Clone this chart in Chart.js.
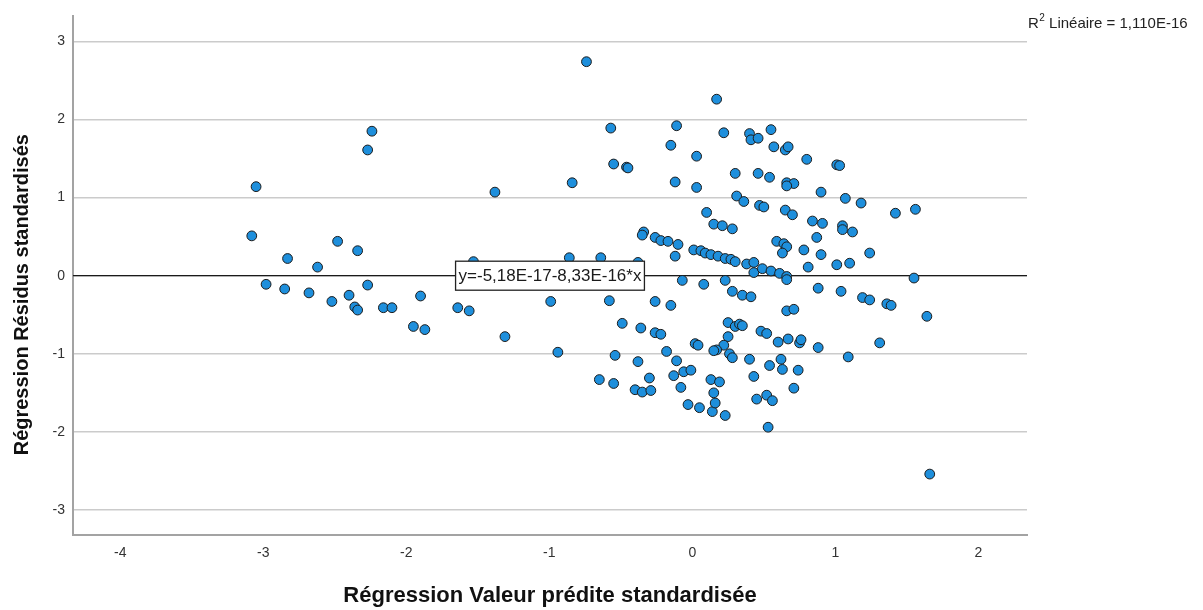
<!DOCTYPE html>
<html lang="fr">
<head>
<meta charset="UTF-8">
<title>Nuage de points - Régression Résidus standardisés</title>
<script src="https://cdn.jsdelivr.net/npm/chart.js"></script>
<style>
  body { margin: 0; background: #fff; }
  canvas { display: block; }
</style>
</head>
<body>

<canvas id="residusChart" width="1203" height="610"></canvas>

<script>
// valeurs
const xTicks = [-4, -3, -2, -1, 0, 1, 2];
const yTicks = [-3, -2, -1, 0, 1, 2, 3];

const predicted = [
  -3.05, -3.08, -2.24, -2.27, -2.83, -2.62, -2.48, -2.34, -2.98, -2.85,
  -2.68, -2.52, -2.40, -2.27, -2.36, -2.34, -2.16, -2.10, -1.90, -1.95,
  -1.87, -1.64, -1.56, -1.31, -0.94, -0.99, -1.53, -1.38, -0.84, -0.74,
  -0.57, -0.55, -0.46, -0.45, -0.86, -0.64, -0.38, -0.58, -0.11, -0.15,
  0.03, -0.12, 0.03, 0.10, -0.34, -0.35, -0.26, -0.22, -0.17, -0.10,
  -0.12, 0.01, 0.06, 0.09, 0.13, 0.18, 0.23, 0.27, 0.30, 0.38,
  0.43, 0.43, 0.49, 0.55, 0.61, 0.66, 0.66, 0.17, 0.22, 0.40,
  0.41, 0.46, 0.55, 0.57, 0.65, 0.67, 0.80, 1.01, 1.03, 0.30,
  0.46, 0.54, 0.66, 0.71, 0.66, 0.90, 1.07, 0.31, 0.36, 0.47,
  0.50, 0.65, 0.70, 0.84, 0.91, 1.05, 1.05, 1.12, 1.18, 1.42,
  1.56, 0.15, 0.21, 0.28, 0.87, 0.59, 0.64, 0.66, 0.63, 0.78,
  0.90, 1.24, 0.81, 1.01, 1.10, 1.55, -0.07, 0.08, 0.23, 0.28,
  0.35, 0.41, 0.88, 1.04, 1.19, 1.24, 1.36, 1.39, 1.64, -0.26,
  -0.15, -0.49, -0.36, -0.26, -0.22, 0.25, 0.30, 0.33, 0.35, 0.48,
  0.52, 0.66, 0.71, 0.25, 0.02, 0.04, 0.22, 0.17, 0.15, 0.26,
  0.28, 0.60, 0.67, 0.75, 0.76, 0.88, 1.09, 1.31, -0.54, -0.38,
  -0.18, -0.11, -0.06, -0.01, -0.13, -0.08, -0.65, -0.55, -0.30, -0.40,
  -0.35, -0.29, -0.03, 0.05, 0.14, 0.16, 0.15, 0.13, 0.19, 0.23,
  0.40, 0.54, 0.62, 0.63, 0.74, 0.43, 0.71, 0.45, 0.52, 0.56,
  0.53, 1.66
];

const residuals = [
  1.14, 0.51, 1.85, 1.61, 0.22, 0.11, 0.44, 0.32, -0.11, -0.17,
  -0.22, -0.33, -0.25, -0.12, -0.40, -0.44, -0.41, -0.41, -0.26, -0.65,
  -0.69, -0.41, -0.45, -0.78, -0.98, -0.33, 0.18, 1.07, 1.19, 2.74,
  1.89, 1.43, 1.39, 1.38, 0.23, 0.23, 0.17, -0.32, 1.92, 1.67,
  1.53, 1.20, 1.13, 0.81, 0.56, 0.52, 0.49, 0.45, 0.44, 0.40,
  0.25, 0.33, 0.32, 0.29, 0.27, 0.25, 0.22, 0.21, 0.18, 0.15,
  0.17, 0.04, 0.09, 0.06, 0.03, -0.01, -0.05, 2.26, 1.83, 1.82,
  1.74, 1.76, 1.87, 1.65, 1.61, 1.65, 1.49, 1.42, 1.41, 1.31,
  1.31, 1.26, 1.19, 1.18, 1.15, 1.07, 0.99, 1.02, 0.95, 0.90,
  0.88, 0.84, 0.78, 0.70, 0.67, 0.64, 0.59, 0.56, 0.93, 0.80,
  0.85, 0.66, 0.64, 0.60, 0.49, 0.44, 0.41, 0.37, 0.29, 0.33,
  0.27, 0.29, 0.11, 0.14, 0.16, -0.03, -0.06, -0.11, -0.06, -0.20,
  -0.25, -0.27, -0.16, -0.20, -0.28, -0.31, -0.36, -0.38, -0.52, -0.33,
  -0.38, -0.61, -0.67, -0.73, -0.75, -0.60, -0.65, -0.62, -0.64, -0.71,
  -0.74, -0.45, -0.43, -0.78, -0.87, -0.89, -0.89, -0.95, -0.96, -1.00,
  -1.05, -0.85, -0.81, -0.86, -0.82, -0.92, -1.04, -0.86, -1.02, -1.10,
  -0.97, -1.09, -1.23, -1.21, -1.28, -1.43, -1.33, -1.38, -1.31, -1.46,
  -1.49, -1.47, -1.65, -1.69, -1.74, -1.63, -1.50, -1.33, -1.36, -1.79,
  -1.07, -1.15, -1.07, -1.20, -1.21, -1.29, -1.44, -1.58, -1.53, -1.60,
  -1.94, -2.54
];

// droite d'ajustement (pratiquement y = 0)
const fitX = [-4.33, 2.34];
const fitY = [0, 0];

const equationLabel = 'y=-5,18E-17-8,33E-16*x';
const r2Label = ' Linéaire = 1,110E-16';
const xTitle = 'Régression Valeur prédite standardisée';
const yTitle = 'Régression Résidus standardisés';

const FONT = '"Liberation Sans", Arial, sans-serif';

// textes façon SPSS : titres d'axes, étiquette R², encadré de l'équation
const spssTexts = {
    id: 'spssTexts',
    afterDatasetsDraw(chart) {
        const { ctx, chartArea: a, scales } = chart;
        const y0 = scales.y.getPixelForValue(0);
        const cx = (a.left + a.right) / 2;

        ctx.save();
        ctx.font = '17px ' + FONT;
        const w = ctx.measureText(equationLabel).width + 6;
        const h = 29;
        ctx.fillStyle = '#fff';
        ctx.fillRect(cx - w / 2, y0 - h / 2, w, h);
        ctx.strokeStyle = '#222';
        ctx.lineWidth = 1.3;
        ctx.strokeRect(cx - w / 2, y0 - h / 2, w, h);
        ctx.fillStyle = '#1a1a1a';
        ctx.textAlign = 'center';
        ctx.textBaseline = 'middle';
        ctx.fillText(equationLabel, cx, y0 + 1);
        ctx.restore();
    },
    afterDraw(chart) {
        const { ctx, chartArea: a } = chart;
        const cx = (a.left + a.right) / 2;
        const cy = (a.top + a.bottom) / 2;

        ctx.save();
        ctx.fillStyle = '#111';
        ctx.textAlign = 'center';
        ctx.textBaseline = 'alphabetic';
        ctx.font = 'bold 22px ' + FONT;
        ctx.fillText(xTitle, cx, a.bottom + 67);

        ctx.font = 'bold 20px ' + FONT;
        ctx.translate(a.left - 45, cy + 19);
        ctx.rotate(-Math.PI / 2);
        ctx.fillText(yTitle, 0, 0);
        ctx.restore();

        // R² Linéaire
        ctx.save();
        ctx.fillStyle = '#222';
        ctx.textAlign = 'left';
        ctx.textBaseline = 'alphabetic';
        let x = a.right + 1;
        const base = 28;
        ctx.font = '15px ' + FONT;
        ctx.fillText('R', x, base);
        x += ctx.measureText('R').width;
        ctx.font = '10px ' + FONT;
        ctx.fillText('2', x + 0.5, base - 7);
        x += ctx.measureText('2').width + 0.5;
        ctx.font = '15px ' + FONT;
        ctx.fillText(r2Label, x, base);
        ctx.restore();
    }
};

const ctx = document.getElementById('residusChart').getContext('2d');

new Chart(ctx, {
    type: 'scatter',
    data: {
        datasets: [
            {
                type: 'line',
                label: 'Ajustement',
                data: fitX.map((x, i) => ({ x: x, y: fitY[i] })),
                borderColor: '#1a1a1a',
                borderWidth: 1.3,
                pointRadius: 0,
                fill: false,
                order: 2
            },
            {
                label: 'Résidus',
                data: predicted.map((x, i) => ({ x: x, y: residuals[i] })),
                backgroundColor: '#1e8fdc',
                borderColor: '#1c1c1c',
                borderWidth: 1,
                pointRadius: 4.9,
                order: 1
            }
        ]
    },
    options: {
        responsive: false,
        animation: false,
        layout: { padding: { left: 0, top: 8, right: 176, bottom: 0 } },
        plugins: {
            legend: { display: false },
            tooltip: { enabled: false }
        },
        scales: {
            x: {
                type: 'linear',
                min: -4.33,
                max: 2.34,
                afterBuildTicks: s => { s.ticks = xTicks.map(v => ({ value: v })); },
                afterFit: s => { s.height = 75; },
                grid: { display: false, drawTicks: false },
                border: { display: true, color: '#a3a3a3', width: 2 },
                ticks: { padding: 10, color: '#333', font: { family: FONT, size: 14 } }
            },
            y: {
                type: 'linear',
                min: -3.32,
                max: 3.32,
                afterBuildTicks: s => { s.ticks = yTicks.map(v => ({ value: v })); },
                afterFit: s => { s.width = 73; },
                grid: { color: '#cbcbcb', lineWidth: 1.6, drawTicks: false },
                border: { display: true, color: '#a3a3a3', width: 2 },
                ticks: { padding: 8, color: '#333', font: { family: FONT, size: 14 } }
            }
        }
    },
    plugins: [spssTexts]
});
</script>
</body>
</html>
